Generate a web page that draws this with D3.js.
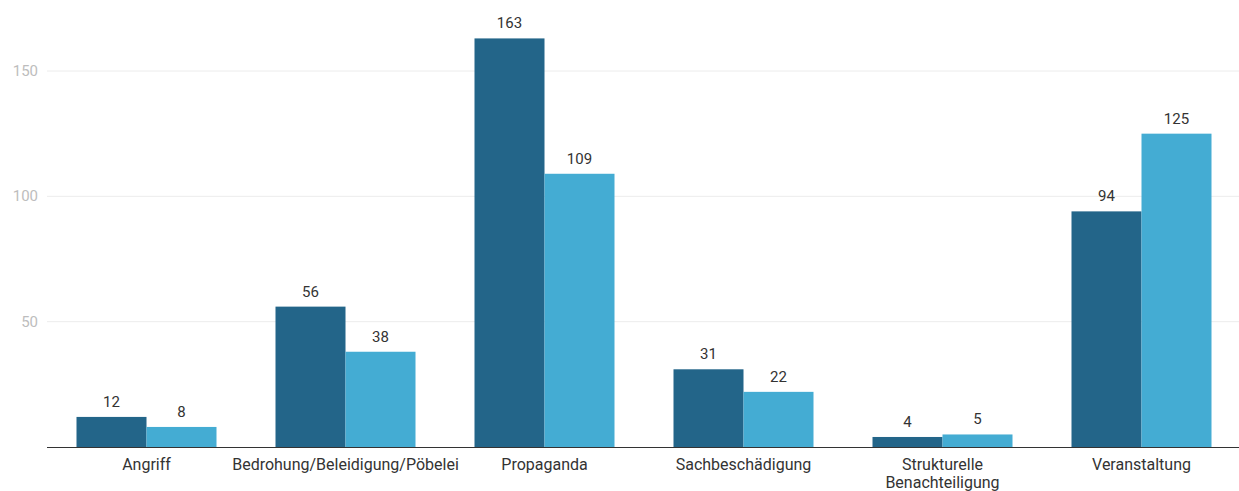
<!DOCTYPE html>
<html><head><meta charset="utf-8">
<script src="https://cdn.jsdelivr.net/npm/d3@7"></script>
<style>body{margin:0;background:#fff}svg{display:block;font-family:Roboto,sans-serif}</style>
</head><body>
<svg id="c" width="1239" height="491"></svg>
<script>
const categories = ["Angriff","Bedrohung/Beleidigung/Pöbelei","Propaganda","Sachbeschädigung","Strukturelle\nBenachteiligung","Veranstaltung"];
const seriesA = [12,56,163,31,4,94];
const seriesB = [8,38,109,22,5,125];
const yTicks = [50,100,150];
const colors = ["#236589","#44acd3"];

const svg = d3.select("#c");
const x0 = d3.scaleBand().domain(categories).range([47,1241]).paddingInner(0).paddingOuter(0);
const inner = 140;
const x1 = d3.scaleBand().domain([0,1]).range([0,inner]);
const y = d3.scaleLinear().domain([0,150]).range([447,71]);

svg.append("g").selectAll("line").data(yTicks).join("line")
  .attr("x1",47).attr("x2",1239).attr("y1",d=>y(d)).attr("y2",d=>y(d))
  .attr("stroke","#ececec").attr("stroke-width",1);
svg.append("g").selectAll("text").data(yTicks).join("text")
  .attr("x",38).attr("y",d=>y(d)+5).attr("text-anchor","end")
  .attr("font-size",15).attr("fill","#bdbdbd").text(d=>d);

const groups = svg.append("g").selectAll("g").data(categories).join("g")
  .attr("transform",d=>`translate(${x0(d)+(x0.bandwidth()-inner)/2},0)`);
groups.each(function(c,i){
  const g = d3.select(this);
  [seriesA[i],seriesB[i]].forEach((v,j)=>{
    g.append("rect").attr("x",x1(j)).attr("width",x1.bandwidth())
      .attr("y",y(v)).attr("height",y(0)-y(v)).attr("fill",colors[j]);
    g.append("text").attr("x",x1(j)+x1.bandwidth()/2).attr("y",y(v)-10)
      .attr("text-anchor","middle").attr("font-size",15).attr("fill","#333").text(v);
  });
});

svg.append("line").attr("x1",47).attr("x2",1239).attr("y1",447.5).attr("y2",447.5)
  .attr("stroke","#333").attr("stroke-width",1.2);

svg.append("g").selectAll("text").data(categories).join("text")
  .attr("x",d=>x0(d)+x0.bandwidth()/2).attr("y",470)
  .attr("text-anchor","middle").attr("font-size",16).attr("fill","#333")
  .each(function(d){
    const t=d3.select(this);
    d.split("\n").forEach((s,k)=>t.append("tspan").attr("x",x0(d)+x0.bandwidth()/2).attr("dy",k?18:0).text(s));
  });
</script>
</body></html>
